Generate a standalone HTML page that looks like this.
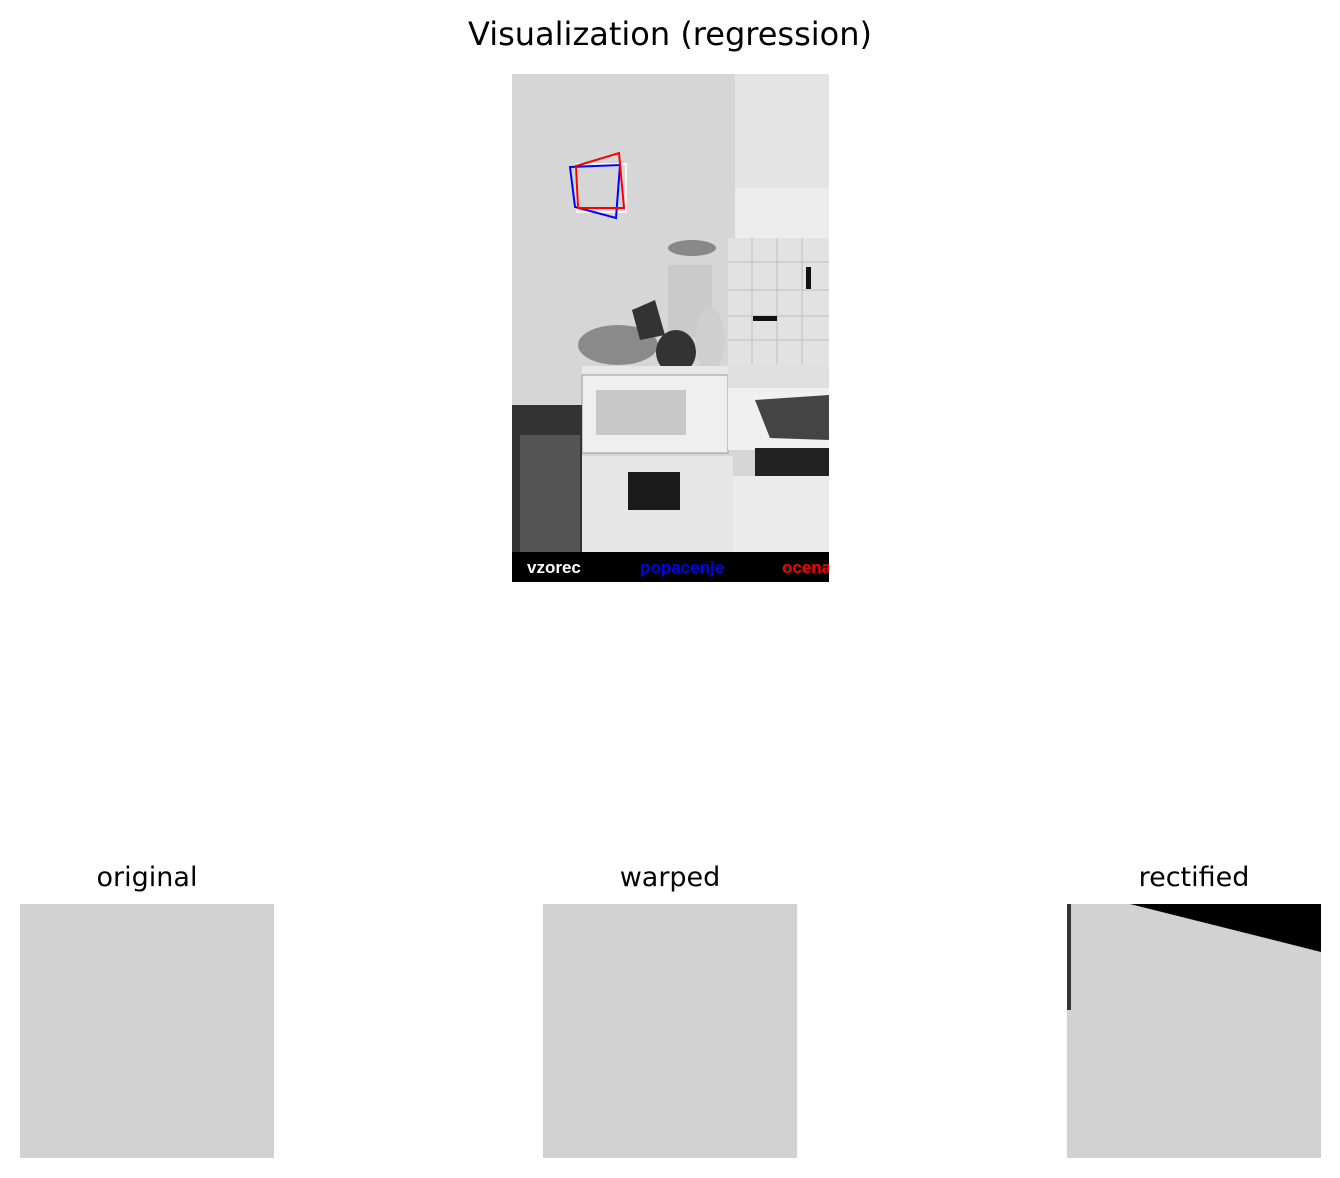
<!DOCTYPE html>
<html><head><meta charset="utf-8"><style>
body{margin:0;background:#fff;width:1340px;height:1178px;overflow:hidden;font-family:"Liberation Sans","DejaVu Sans",sans-serif}
svg{position:absolute;left:0;top:0}
</style></head><body>
<svg width="1340" height="1178" viewBox="0 0 1340 1178">
<text x="670" y="45" font-size="32" text-anchor="middle" fill="#000" font-family="DejaVu Sans, sans-serif">Visualization (regression)</text>
<defs><clipPath id="imgclip"><rect x="512" y="74" width="317" height="508"/></clipPath></defs>
<g clip-path="url(#imgclip)">
<rect x="512" y="74" width="317" height="508" fill="#d6d6d6"/>
<rect x="735" y="74" width="94" height="120" fill="#e4e4e4"/>
<rect x="735" y="188" width="94" height="50" fill="#ececec"/>
<rect x="728" y="238" width="101" height="126" fill="#e2e2e2"/>
<g stroke="#bdbdbd" stroke-width="1">
<line x1="728" y1="262" x2="829" y2="262"/><line x1="728" y1="290" x2="829" y2="290"/><line x1="728" y1="316" x2="829" y2="316"/><line x1="728" y1="340" x2="829" y2="340"/>
<line x1="752" y1="238" x2="752" y2="364"/><line x1="777" y1="238" x2="777" y2="364"/><line x1="802" y1="238" x2="802" y2="364"/>
</g>
<rect x="806" y="267" width="5" height="22" fill="#111"/>
<rect x="753" y="316" width="24" height="5" fill="#111"/>
<ellipse cx="692" cy="248" rx="24" ry="8" fill="#888"/>
<rect x="668" y="265" width="44" height="72" fill="#cacaca"/>
<ellipse cx="618" cy="345" rx="40" ry="20" fill="#8a8a8a"/>
<path d="M632 310 L655 300 L665 335 L640 340 Z" fill="#333"/>
<ellipse cx="676" cy="352" rx="20" ry="22" fill="#333"/>
<ellipse cx="710" cy="340" rx="15" ry="32" fill="#cfcfcf"/>
<rect x="582" y="366" width="146" height="10" fill="#e8e8e8"/>
<rect x="582" y="375" width="146" height="78" fill="#efefef" stroke="#999"/>
<rect x="596" y="390" width="90" height="45" fill="#c8c8c8"/>
<rect x="580" y="456" width="153" height="96" fill="#e6e6e6"/>
<rect x="628" y="472" width="52" height="38" fill="#1a1a1a"/>
<rect x="512" y="405" width="70" height="147" fill="#333"/>
<rect x="520" y="435" width="60" height="117" fill="#555"/>
<rect x="728" y="364" width="101" height="24" fill="#e0e0e0"/>
<rect x="728" y="388" width="101" height="62" fill="#f0f0f0"/>
<path d="M755 400 L829 395 L829 440 L770 438 Z" fill="#444"/>
<rect x="755" y="448" width="74" height="28" fill="#222"/>
<rect x="733" y="476" width="96" height="76" fill="#ebebeb"/>
<rect x="512" y="552" width="317" height="30" fill="#000"/>
<text x="527" y="573" font-size="17" font-weight="bold" fill="#fff">vzorec</text>
<text x="640" y="573" font-size="17" font-weight="bold" fill="#00f">popacenje</text>
<text x="782" y="573" font-size="17" font-weight="bold" fill="#f00">ocena</text>
<rect x="577" y="164" width="49" height="48" fill="none" stroke="#fff" stroke-width="1.5"/>
<polygon points="570,167 620,165 616,218 575,207" fill="none" stroke="#00f" stroke-width="2"/>
<polygon points="576,166 619,153 624,208 578,208" fill="none" stroke="#f00" stroke-width="2"/>
</g>
<text x="147" y="886" font-size="27" text-anchor="middle" font-family="DejaVu Sans, sans-serif">original</text>
<rect x="20" y="904" width="254" height="254" fill="#d2d2d2"/>
<text x="670" y="886" font-size="27" text-anchor="middle" font-family="DejaVu Sans, sans-serif">warped</text>
<rect x="543" y="904" width="254" height="254" fill="#d2d2d2"/>
<text x="1194" y="886" font-size="27" text-anchor="middle" font-family="DejaVu Sans, sans-serif">rectified</text>
<g>
<rect x="1067" y="904" width="254" height="254" fill="#d2d2d2"/>
<polygon points="1130,904 1321,904 1321,952" fill="#000"/>
<rect x="1067" y="904" width="4" height="106" fill="#333"/>
</g>
</svg>
</body></html>
